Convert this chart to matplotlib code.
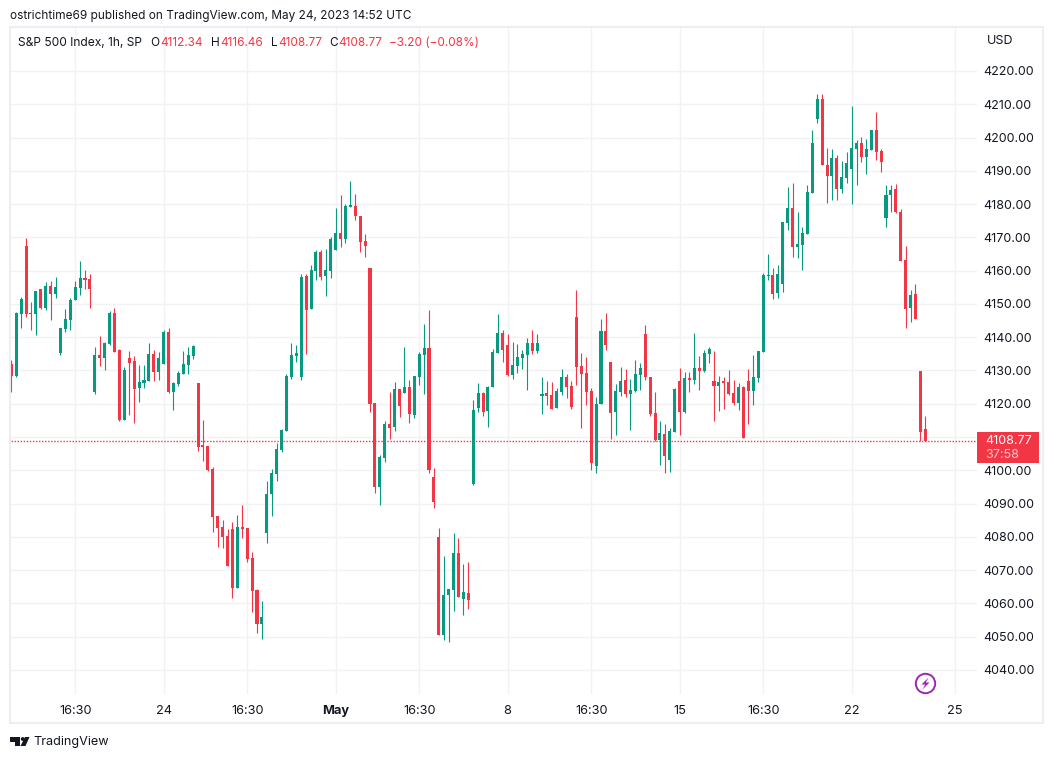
import numpy as np
import matplotlib
matplotlib.use("Agg")
import matplotlib.pyplot as plt
from matplotlib.patches import Rectangle, Circle, Polygon

plt.rcParams['font.family'] = ['Inter', 'DejaVu Sans']

opens = [4131.9,4128.3,4146.9,4167.4,4147.2,4146.9,4154.5,4148.7,4155.4,4153.0,
         4135.2,4142.4,4145.1,4151.1,4154.8,4157.8,4157.5,4123.5,4134.6,4133.7,
         4137.9,4147.2,4136.1,4115.0,4133.7,4132.8,4124.7,4126.2,4126.8,4134.9,
         4129.5,4131.9,4141.5,4123.5,4125.9,4128.9,4131.6,4134.3,4126.3,4107.7,
         4107.4,4100.4,4086.3,4083.0,4080.3,4082.4,4064.7,4083.0,4082.7,4073.7,
         4064.1,4053.9,4081.2,4092.9,4099.0,4106.2,4111.9,4128.1,4134.4,4128.1,
         4158.5,4148.5,4160.0,4165.7,4158.5,4160.0,4166.3,4171.4,4169.6,4179.2,
         4179.5,4176.5,4169.0,4160.9,4120.3,4095.0,4103.7,4114.0,4113.1,4124.5,
         4123.3,4125.1,4116.7,4128.1,4134.7,4136.8,4098.0,4080.0,4050.5,4062.6,
         4064.1,4075.2,4061.4,4063.2,4095.9,4118.8,4123.3,4117.7,4124.9,4135.1,
         4141.4,4137.5,4128.5,4131.2,4133.6,4134.5,4138.1,4135.7,4122.2,4123.1,
         4122.5,4118.6,4123.4,4127.9,4125.2,4146.2,4131.2,4129.1,4123.7,4101.2,
         4119.8,4142.0,4132.4,4117.4,4123.4,4127.0,4122.8,4123.7,4128.5,4141.1,
         4127.9,4117.1,4109.0,4110.8,4103.0,4111.4,4126.7,4117.4,4127.6,4127.0,
         4130.6,4129.7,4134.8,4126.7,4125.2,4126.7,4126.4,4123.1,4120.1,4124.9,
         4126.7,4123.7,4127.7,4135.5,4158.3,4158.6,4153.2,4155.9,4174.3,4178.8,
         4167.1,4167.7,4171.0,4183.3,4205.6,4211.6,4191.7,4188.4,4193.9,4184.5,
         4187.8,4190.5,4196.6,4198.4,4194.2,4196.3,4202.3,4196.0,4175.8,4182.7,
         4184.5,4177.6,4163.2,4148.7,4152.9,4129.8,4112.34]

highs = [4133.1,4147.5,4152.0,4169.8,4150.5,4153.9,4154.5,4156.6,4156.9,4158.1,
         4142.7,4148.4,4151.7,4156.9,4162.9,4160.2,4159.0,4137.0,4140.3,4138.5,
         4147.8,4148.7,4136.4,4131.0,4135.8,4134.3,4131.6,4131.6,4138.2,4136.1,
         4135.5,4142.1,4142.7,4126.5,4129.8,4135.8,4137.0,4137.6,4126.3,4115.2,
         4107.4,4101.0,4086.3,4085.1,4082.4,4084.5,4086.6,4089.6,4082.7,4075.5,
         4064.4,4060.8,4096.8,4100.4,4108.3,4112.5,4129.0,4138.3,4137.7,4159.1,
         4159.1,4161.8,4166.3,4166.3,4166.6,4170.2,4178.9,4182.8,4180.1,4187.0,
         4183.1,4176.5,4171.1,4160.9,4120.3,4104.6,4114.9,4123.6,4126.6,4124.5,
         4137.1,4127.2,4128.4,4135.6,4144.0,4148.2,4100.7,4082.7,4074.3,4064.4,
         4081.2,4079.7,4071.9,4072.5,4121.2,4126.3,4123.6,4125.4,4136.3,4147.1,
         4142.3,4141.1,4138.7,4137.8,4136.0,4139.9,4142.3,4141.1,4127.9,4126.7,
         4126.4,4124.6,4130.3,4128.8,4126.7,4154.3,4135.1,4133.9,4124.6,4121.9,
         4145.6,4147.4,4132.4,4125.8,4130.9,4130.3,4127.3,4133.0,4132.1,4143.8,
         4127.9,4123.4,4114.7,4113.8,4112.6,4124.6,4130.6,4129.4,4129.4,4141.4,
         4134.2,4136.0,4136.9,4135.7,4128.2,4127.9,4130.0,4127.0,4126.1,4125.2,
         4130.4,4134.6,4135.8,4159.2,4165.0,4160.8,4161.7,4174.6,4185.1,4186.3,
         4177.6,4173.1,4185.7,4202.3,4213.1,4213.1,4196.9,4196.6,4194.8,4192.9,
         4195.7,4209.5,4199.3,4200.2,4199.6,4202.3,4207.7,4196.6,4185.7,4185.7,
         4186.0,4178.5,4167.4,4154.1,4156.0,4129.8,4116.46]

lows = [4123.5,4128.0,4142.7,4146.0,4142.1,4140.6,4148.4,4148.1,4145.1,4151.7,
        4134.6,4141.5,4142.1,4151.1,4152.6,4154.5,4148.7,4122.9,4131.3,4130.1,
        4137.6,4135.5,4114.7,4115.0,4116.5,4114.1,4120.5,4124.7,4126.8,4126.8,
        4127.1,4131.9,4123.2,4118.0,4125.3,4128.9,4128.9,4133.4,4105.9,4102.8,
        4099.8,4081.5,4077.0,4076.7,4071.3,4061.7,4064.7,4079.7,4072.5,4057.5,
        4051.2,4049.3,4078.2,4086.3,4096.8,4105.6,4111.9,4127.5,4132.6,4127.2,
        4135.0,4148.5,4157.3,4157.3,4152.4,4157.9,4166.3,4167.2,4168.4,4179.2,
        4175.3,4165.7,4164.2,4117.6,4093.2,4089.6,4102.5,4109.5,4111.9,4116.1,
        4123.3,4114.3,4115.8,4125.7,4123.0,4099.2,4088.7,4050.5,4049.0,4048.4,
        4057.8,4062.0,4056.6,4058.4,4095.6,4117.6,4116.4,4112.9,4124.9,4135.1,
        4132.4,4128.2,4127.3,4129.1,4130.3,4124.0,4134.8,4135.1,4116.8,4119.5,
        4118.3,4118.6,4122.5,4121.6,4118.3,4125.5,4112.6,4119.5,4100.0,4099.1,
        4119.8,4136.0,4109.3,4110.5,4122.2,4121.9,4112.0,4123.4,4124.0,4127.0,
        4116.2,4108.7,4101.5,4099.3,4099.6,4111.4,4110.5,4117.1,4123.4,4125.8,
        4124.0,4129.4,4132.1,4114.7,4117.7,4118.3,4122.5,4119.5,4118.0,4109.6,
        4113.8,4119.5,4126.4,4135.5,4157.1,4151.4,4151.7,4153.5,4172.2,4164.1,
        4163.8,4160.2,4171.0,4183.3,4204.4,4191.7,4180.3,4181.2,4181.2,4183.3,
        4186.3,4180.0,4185.7,4192.6,4189.0,4196.3,4193.3,4189.6,4173.1,4177.6,
        4177.3,4162.9,4142.7,4144.5,4145.4,4108.7,4108.77]

closes = [4128.3,4147.2,4151.4,4146.9,4146.9,4153.9,4148.7,4155.4,4153.0,4155.1,
          4142.7,4145.4,4151.1,4155.1,4157.8,4157.2,4154.5,4134.6,4133.7,4138.2,
          4147.2,4135.5,4115.0,4130.1,4132.2,4124.4,4126.5,4127.1,4134.9,4129.5,
          4133.7,4141.5,4123.5,4126.2,4129.2,4131.9,4134.6,4137.3,4107.1,4107.1,
          4100.1,4086.0,4082.7,4080.0,4071.3,4064.7,4083.0,4082.4,4073.4,4063.8,
          4053.9,4056.0,4092.9,4099.2,4106.5,4112.2,4128.4,4134.7,4135.3,4158.2,
          4148.2,4160.3,4165.7,4158.2,4160.3,4169.6,4171.4,4169.6,4179.5,4179.5,
          4176.5,4168.7,4167.5,4120.0,4095.0,4104.0,4114.0,4112.8,4124.5,4119.4,
          4125.1,4117.0,4128.4,4135.0,4136.8,4100.1,4090.5,4050.5,4062.6,4064.4,
          4075.2,4062.0,4063.5,4061.1,4118.2,4123.3,4117.6,4124.9,4135.4,4141.4,
          4136.0,4128.5,4131.5,4133.9,4134.8,4138.1,4135.7,4138.1,4122.8,4122.2,
          4118.3,4123.7,4127.9,4124.9,4118.9,4130.9,4128.8,4123.4,4102.1,4119.8,
          4142.0,4137.5,4117.1,4123.7,4126.7,4122.8,4124.0,4128.8,4130.6,4127.9,
          4116.8,4109.0,4111.1,4104.2,4111.7,4124.3,4117.4,4127.6,4127.0,4130.6,
          4129.7,4135.1,4136.3,4125.2,4126.4,4126.1,4122.8,4120.1,4125.0,4109.6,
          4123.7,4128.0,4135.8,4158.6,4158.6,4152.9,4158.9,4174.6,4178.8,4167.1,
          4168.0,4171.3,4183.6,4198.4,4211.6,4191.7,4188.4,4193.9,4184.5,4188.1,
          4192.3,4196.9,4198.4,4194.2,4196.6,4202.3,4195.7,4192.6,4182.7,4184.2,
          4177.6,4162.9,4148.4,4152.6,4145.4,4111.6,4108.77]

xtick_bars = [13, 31, 48, 66, 83, 101, 118, 136, 153, 171, 192]
xtick_labels = ['16:30', '24', '16:30', 'May', '16:30', '8', '16:30', '15', '16:30', '22', '25']
price_ticks = [4040, 4050, 4060, 4070, 4080, 4090, 4100, 4110, 4120, 4130, 4140,
               4150, 4160, 4170, 4180, 4190, 4200, 4210, 4220]
last_price = 4108.77

GREEN = '#089981'
RED = '#F23645'
TEXT = '#131722'
GRID = '#F1F2F4'
FRAME = '#EDEEF3'

W, H = 1053, 759
fig = plt.figure(figsize=(W / 100, H / 100), dpi=100, facecolor='white')

# plot area in pixels: left 11, right 977, top 28, bottom 694
ax = fig.add_axes([11 / W, 1 - 694 / H, (977 - 11) / W, (694 - 28) / H])
bar_px = 4.914
ax.set_xlim((11 - 11.3) / bar_px, (977 - 11.3) / bar_px)
ax.set_ylim(4040 - (694 - 669.9) / 3.3275, 4220 + (71.0 - 28) / 3.3275)

idx = np.arange(len(opens))
o = np.array(opens)
c = np.array(closes)
colors = [GREEN if c[i] >= o[i] else RED for i in idx]

ax.vlines(idx, lows, highs, colors=colors, linewidth=0.8, zorder=3)
ax.bar(idx, np.maximum(np.abs(c - o), 0.5), bottom=np.minimum(o, c), width=0.62,
       color=colors, linewidth=0, zorder=4)

ax.axhline(last_price, color=RED, linewidth=1.0, linestyle=(0, (1, 1.2)), zorder=5)

ax.set_xticks(xtick_bars)
ax.set_xticklabels(xtick_labels, fontsize=9.2, color=TEXT)
ax.set_yticks(price_ticks)
ax.set_yticklabels(['%.2f' % p for p in price_ticks], fontsize=9.0, color=TEXT)
ax.yaxis.tick_right()
ax.tick_params(axis='both', length=0)
ax.tick_params(axis='x', pad=8)
ax.tick_params(axis='y', pad=4.5)
for lab in ax.get_xticklabels():
    if lab.get_text() == 'May':
        lab.set_fontweight('bold')
ax.grid(True, color=GRID, linewidth=1)
ax.set_axisbelow(True)
for s in ax.spines.values():
    s.set_visible(False)

# everything else is placed in figure pixels
ov = fig.add_axes([0, 0, 1, 1], zorder=10)
ov.set_xlim(0, W)
ov.set_ylim(H, 0)
ov.axis('off')
ov.patch.set_alpha(0)

ov.add_patch(Rectangle((10, 27), 1033, 696, fill=False, edgecolor=FRAME, linewidth=1.5))

ov.text(10, 15.5, 'ostrichtime69 published on TradingView.com, May 24, 2023 14:52 UTC',
        fontsize=8.5, color=TEXT, va='center')

ov.text(18, 42.5, 'S&P 500 Index, 1h, SP', fontsize=8.65, color=TEXT, va='center')
legend_parts = [(150, 'O', TEXT), (160, '4112.34', RED), (211, 'H', TEXT), (220, '4116.46', RED),
                (271, 'L', TEXT), (278, '4108.77', RED), (329, 'C', TEXT), (338, '4108.77', RED),
                (389, '\u22123.20 (\u22120.08%)', RED)]
for x, s, col in legend_parts:
    ov.text(x, 42.5, s, fontsize=8.5, color=col, va='center')

ov.text(987, 40.5, 'USD', fontsize=9.0, color=TEXT, va='center')

# last price tag
ov.add_patch(Rectangle((977, 432), 62, 31, facecolor=RED, edgecolor='none'))
ov.text(985, 440.5, '4108.77', fontsize=9.0, color='white', va='center')
ov.text(985, 454.5, '37:58', fontsize=9.0, color='#FBC4C9', va='center')

# purple bolt
ov.add_patch(Circle((925.5, 683.5), 9.7, fill=False, edgecolor='#9C27B0', linewidth=1.4))
ov.add_patch(Polygon([(928.5, 677.5), (921.5, 684.5), (925.2, 684.5), (922.5, 689.5),
                      (929.5, 682.5), (925.8, 682.5)], closed=True,
                     facecolor='#9C27B0', edgecolor='none'))

# TradingView logo
ov.add_patch(Polygon([(10, 737), (20, 737), (20, 746), (15, 746), (15, 741.5), (10, 741.5)],
                     closed=True, facecolor=TEXT, edgecolor='none'))
ov.add_patch(Circle((22.7, 739), 1.9, facecolor=TEXT, edgecolor='none'))
ov.add_patch(Polygon([(25, 737), (29.5, 737), (25.5, 746), (20.5, 746)],
                     closed=True, facecolor=TEXT, edgecolor='none'))
ov.text(33.5, 742.5, 'TradingView', fontsize=9.1, color=TEXT, va='center')

fig.savefig('out.png', dpi=100, facecolor='white')
